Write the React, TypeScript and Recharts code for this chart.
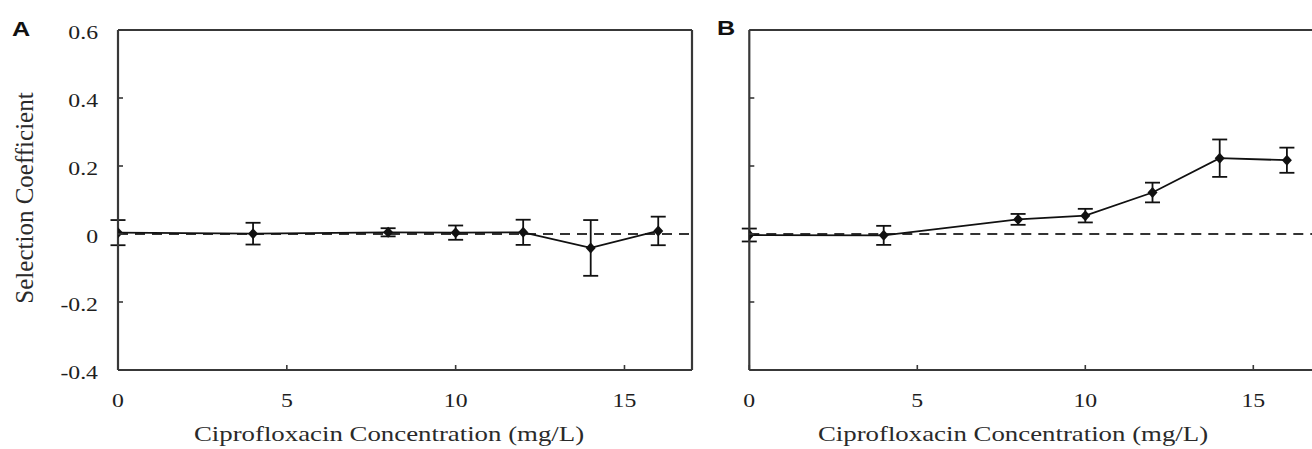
import { LineChart, Line, XAxis, YAxis, ErrorBar, ReferenceLine } from "recharts";

const CONC = [0, 4, 8, 10, 12, 14, 16];
const A_MEAN = [0.004, 0.001, 0.005, 0.004, 0.005, -0.041, 0.009];
const A_ERR = [0.037, 0.032, 0.012, 0.021, 0.037, 0.082, 0.042];
const B_MEAN = [-0.003, -0.004, 0.043, 0.054, 0.122, 0.223, 0.217];
const B_ERR = [0.019, 0.028, 0.016, 0.02, 0.029, 0.055, 0.037];

const X_TICKS = [0, 5, 10, 15];
const Y_TICKS = [-0.4, -0.2, 0, 0.2, 0.4, 0.6];
const X_MAX = 17;
const X_TITLE = "Ciprofloxacin Concentration (mg/L)";
const Y_TITLE = "Selection Coefficient";

const FRAME = "#383838";
const INK = "#111";
const SERIF = "Liberation Serif";

const fmtY = (v: number) => (v === 0 ? "0" : v.toFixed(1));

const toRows = (mean: number[], err: number[]) =>
  CONC.map((c, i) => ({ conc: c, s: mean[i], err: err[i] }));

function XTick(props: any) {
  const { x, y, payload } = props;
  return (
    <g>
      <line x1={x} x2={x} y1={y} y2={y - 5} stroke={FRAME} strokeWidth={1.6} />
      <text
        transform={`translate(${x},${y + 37}) scale(1.25,1)`}
        textAnchor="middle"
        style={{ fontFamily: SERIF, fontSize: 19 }}
        fill="#1e1e1e"
      >
        {payload.value}
      </text>
    </g>
  );
}

function makeYTick(showLabel: boolean) {
  return function YTick(props: any) {
    const { x, y, payload } = props;
    return (
      <g>
        <line x1={x} x2={x + 5} y1={y} y2={y} stroke={FRAME} strokeWidth={1.6} />
        {showLabel && (
          <text
            transform={`translate(${x - 20},${y + 9}) scale(1.25,1)`}
            textAnchor="end"
            style={{ fontFamily: SERIF, fontSize: 19 }}
            fill="#1e1e1e"
          >
            {fmtY(payload.value)}
          </text>
        )}
      </g>
    );
  };
}

function Diamond(props: any) {
  const { cx, cy } = props;
  if (cx == null || cy == null) return null;
  return <polygon points={`${cx},${cy - 5.5} ${cx + 5},${cy} ${cx},${cy + 5.5} ${cx - 5},${cy}`} fill={INK} />;
}

function Panel({ data, width, yAxisWidth, right, labels }: any) {
  return (
    <LineChart width={width} height={449} data={data} margin={{ top: 30, right, bottom: 0, left: 0 }}>
      <XAxis
        dataKey="conc"
        type="number"
        domain={[0, X_MAX]}
        ticks={X_TICKS}
        height={79}
        tickLine={false}
        tickSize={0}
        tickMargin={0}
        tick={<XTick />}
        axisLine={{ stroke: FRAME, strokeWidth: 2.2 }}
        allowDataOverflow
      />
      <YAxis
        type="number"
        domain={[-0.4, 0.6]}
        ticks={Y_TICKS}
        width={yAxisWidth}
        tickLine={false}
        tickSize={0}
        tickMargin={0}
        tick={makeYTick(labels)}
        axisLine={{ stroke: FRAME, strokeWidth: 2.2 }}
        allowDataOverflow
      />
      <ReferenceLine y={0.6} stroke={FRAME} strokeWidth={2.2} />
      <ReferenceLine x={X_MAX} stroke={FRAME} strokeWidth={2.2} />
      <ReferenceLine y={0} stroke="#333" strokeWidth={2} strokeDasharray="10 7" />
      <Line
        dataKey="s"
        type="linear"
        stroke={INK}
        strokeWidth={1.8}
        dot={<Diamond />}
        activeDot={false}
        isAnimationActive={false}
      >
        <ErrorBar dataKey="err" direction="y" width={7.5} stroke={INK} strokeWidth={1.8} />
      </Line>
    </LineChart>
  );
}

export default function App() {
  const dataA = toRows(A_MEAN, A_ERR);
  const dataB = toRows(B_MEAN, B_ERR);
  return (
    <div style={{ position: "fixed", left: 0, top: 0, width: 1312, height: 449, overflow: "hidden", background: "#fff" }}>
      <div style={{ position: "absolute", left: 0, top: 0 }}>
        <Panel data={dataA} width={1312} yAxisWidth={118} right={620} labels={true} />
      </div>
      <div style={{ position: "absolute", left: 0, top: 0 }}>
        <Panel data={dataB} width={1322} yAxisWidth={749.3} right={1.5} labels={false} />
      </div>
      <svg width={1312} height={449} style={{ position: "absolute", left: 0, top: 0, pointerEvents: "none" }}>
        <text transform="translate(12,36) scale(1.2,1)" style={{ fontFamily: "Liberation Sans", fontWeight: "bold", fontSize: 21 }} fill="#111">
          A
        </text>
        <text transform="translate(717,35) scale(1.2,1)" style={{ fontFamily: "Liberation Sans", fontWeight: "bold", fontSize: 21 }} fill="#111">
          B
        </text>
        <text transform="translate(33,198) rotate(-90)" textAnchor="middle" style={{ fontFamily: SERIF, fontSize: 25 }} fill="#2a2a2a">
          {Y_TITLE}
        </text>
        <text transform="translate(389,441) scale(1.22,1)" textAnchor="middle" style={{ fontFamily: SERIF, fontSize: 22 }} fill="#2a2a2a">
          {X_TITLE}
        </text>
        <text transform="translate(1013,441) scale(1.22,1)" textAnchor="middle" style={{ fontFamily: SERIF, fontSize: 22 }} fill="#2a2a2a">
          {X_TITLE}
        </text>
      </svg>
    </div>
  );
}
